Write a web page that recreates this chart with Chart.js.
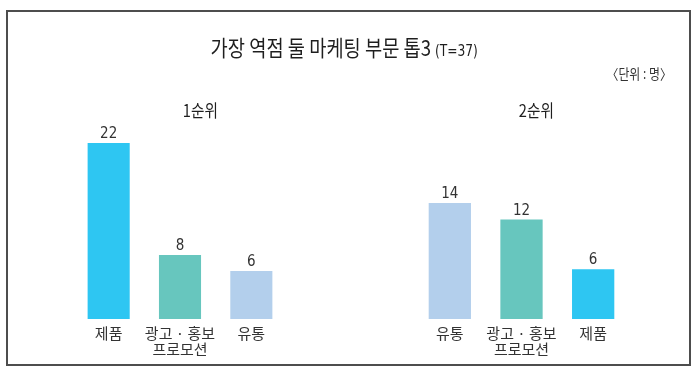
<!DOCTYPE html>
<html>
<head>
<meta charset="utf-8">
<script src="https://cdn.jsdelivr.net/npm/chart.js@4"></script>
<style>
  html, body { margin: 0; padding: 0; background: #fff; }
  #wrap { position: relative; width: 700px; height: 378px; overflow: hidden; }
  #frame { position: absolute; left: 6px; top: 10px; width: 685px; height: 356px; box-sizing: border-box; border: 2px solid #4d4d4d; }
  canvas { position: absolute; top: 0; }
  .txt { position: absolute; white-space: nowrap; color: #1e1e1e; font-family: "Noto Sans CJK KR", sans-serif; line-height: 1; }
  .narrow { font-family: "Liberation Sans Narrow", "DejaVu Sans Condensed", sans-serif; }
</style>
</head>
<body>
<div id="wrap">
  <div id="frame"></div>
  <canvas id="c1" width="350" height="378" style="left:0px"></canvas>
  <canvas id="c2" width="350" height="378" style="left:350px"></canvas>
  <div class="txt" id="title" style="left:-6px; width:700px; top:35px; text-align:center;">
    <span style="display:inline-block; transform:scaleX(0.85); transform-origin:center;">
      <span style="font-size:22px;">가장 역점 둘 마케팅 부문 톱3</span><span class="narrow" style="font-size:16px;"> (T=37)</span>
    </span>
  </div>
  <div class="txt" id="unit" style="right:28px; top:66px; font-size:14px; color:#333;">
    <span style="display:inline-block; transform:scaleX(0.85); transform-origin:right;">〈단위 : 명〉</span>
  </div>
  <div class="txt" style="left:150px; width:100px; top:101px; text-align:center; font-size:17px;">
    <span style="display:inline-block; transform:scaleX(0.86);">1순위</span>
  </div>
  <div class="txt" style="left:486px; width:100px; top:101px; text-align:center; font-size:17px;">
    <span style="display:inline-block; transform:scaleX(0.86);">2순위</span>
  </div>
</div>
<script>
const categories1 = ['제품', ['광고 · 홍보', '프로모션'], '유통'];
const values1 = [22, 8, 6];
const categories2 = ['유통', ['광고 · 홍보', '프로모션'], '제품'];
const values2 = [14, 12, 6];
const categoryColors = { '제품': '#2ec6f2', '광고 · 홍보': '#67c6be', '유통': '#b3cfec' };

function colorsFor(cats) {
  return cats.map(c => categoryColors[Array.isArray(c) ? c[0] : c]);
}

const valueLabels = {
  id: 'valueLabels',
  afterDatasetsDraw(chart) {
    const ctx = chart.ctx;
    ctx.save();
    ctx.font = '15px "Liberation Sans Narrow", "DejaVu Sans Condensed", sans-serif';
    ctx.fillStyle = '#333';
    ctx.textAlign = 'center';
    ctx.textBaseline = 'alphabetic';
    chart.data.datasets.forEach((ds, di) => {
      chart.getDatasetMeta(di).data.forEach((bar, i) => {
        ctx.fillText(String(ds.data[i]), bar.x, bar.y - 5);
      });
    });
    ctx.restore();
  }
};

function makeChart(id, cats, vals, pad) {
  return new Chart(document.getElementById(id), {
    type: 'bar',
    data: {
      labels: cats,
      datasets: [{
        data: vals,
        backgroundColor: colorsFor(cats),
        borderWidth: 0,
        barPercentage: 0.59,
        categoryPercentage: 1
      }]
    },
    options: {
      responsive: false,
      animation: false,
      layout: { padding: pad },
      plugins: { legend: { display: false }, tooltip: { enabled: false }, title: { display: false } },
      scales: {
        x: {
          grid: { display: false, drawTicks: false },
          border: { display: false },
          ticks: {
            color: '#333',
            padding: 6,
            autoSkip: false,
            maxRotation: 0,
            font: { family: '"Noto Sans CJK KR", sans-serif', size: 15, lineHeight: 1.1 }
          },
          afterFit(scale) { scale.height = 45; }
        },
        y: { display: false, min: 0, max: 24 }
      }
    },
    plugins: [valueLabels]
  });
}

makeChart('c1', categories1, values1, { left: 73, right: 63, top: 127, bottom: 14 });
makeChart('c2', categories2, values2, { left: 64, right: 71, top: 120, bottom: 14 });
</script>
</body>
</html>
